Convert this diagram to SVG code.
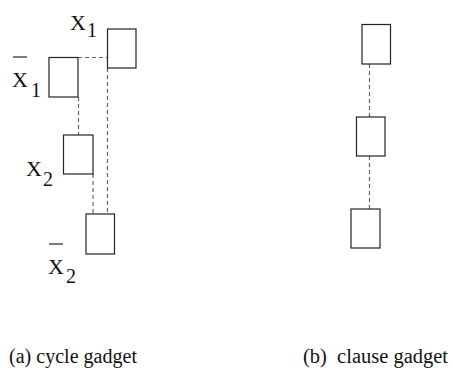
<svg xmlns="http://www.w3.org/2000/svg" width="453" height="373" viewBox="0 0 453 373">
<style>
.box{fill:#fff;stroke:#222;stroke-width:1.2}
.dash{fill:none;stroke:#666;stroke-width:1.2;stroke-dasharray:4,3}
.ov{stroke:#222;stroke-width:1.2}
.t{font-family:Liberation Serif,serif;fill:#111}
.lbl{font-size:22px}
.sub{font-size:20px}
.cap{font-size:20px}
</style>
<rect width="453" height="373" fill="#fff"/>
<g id="connectors">
<line class="dash" x1="78" y1="57.5" x2="107" y2="57.5"/>
<line class="dash" x1="78.5" y1="97" x2="78.5" y2="135"/>
<line class="dash" x1="107.5" y1="68" x2="107.5" y2="214"/>
<line class="dash" x1="93" y1="174" x2="93" y2="214"/>
<line class="dash" x1="369.5" y1="64" x2="369.5" y2="117"/>
<line class="dash" x1="369.5" y1="156" x2="369.5" y2="209"/>
</g>
<g id="node-x1">
<rect class="box" x="107.5" y="29" width="28.5" height="39"/>
<text class="t lbl" x="70" y="30">X</text><text class="t sub" x="87" y="37">1</text>
</g>
<g id="node-xbar1">
<rect class="box" x="49" y="57.5" width="29" height="39.5"/>
<line class="ov" x1="13" y1="57" x2="27" y2="57"/>
<text class="t lbl" x="12" y="87">X</text><text class="t sub" x="31" y="97">1</text>
</g>
<g id="node-x2">
<rect class="box" x="63.5" y="135" width="29.5" height="39"/>
<text class="t lbl" x="26" y="176">X</text><text class="t sub" x="43" y="186">2</text>
</g>
<g id="node-xbar2">
<rect class="box" x="86" y="214" width="28.5" height="40"/>
<line class="ov" x1="49" y1="244" x2="63" y2="244"/>
<text class="t lbl" x="48" y="274">X</text><text class="t sub" x="66" y="283">2</text>
</g>
<g id="node-c1"><rect class="box" x="362" y="24.5" width="28.5" height="39.5"/></g>
<g id="node-c2"><rect class="box" x="356.5" y="117" width="28.5" height="39"/></g>
<g id="node-c3"><rect class="box" x="351" y="209" width="29" height="39"/></g>
<text class="t cap" x="9" y="363" textLength="128" lengthAdjust="spacingAndGlyphs">(a) cycle gadget</text>
<text class="t cap" x="303" y="363" textLength="145" lengthAdjust="spacingAndGlyphs" xml:space="preserve">(b)  clause gadget</text>
</svg>
